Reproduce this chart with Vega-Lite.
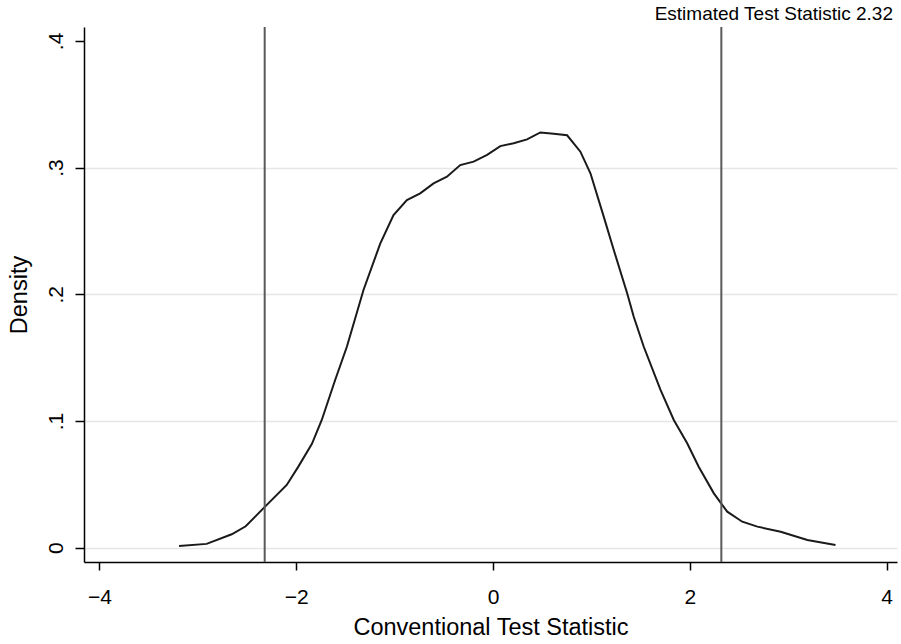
{
  "$schema": "https://vega.github.io/schema/vega-lite/v6.json",
  "width": 813,
  "height": 535,
  "autosize": "none",
  "padding": {"left": 84, "top": 27, "right": 4, "bottom": 82},
  "background": "white",
  "config": {
    "view": {"stroke": null},
    "font": "Liberation Sans"
  },
  "title": {
    "text": "Estimated Test Statistic 2.32",
    "anchor": "end",
    "fontSize": 19,
    "fontWeight": "normal",
    "font": "Liberation Sans",
    "color": "black",
    "offset": 2,
    "dx": -4
  },
  "datasets": {
    "curve": [
      {"t": -3.19, "density": 0.0013},
      {"t": -2.91, "density": 0.003},
      {"t": -2.655, "density": 0.0106},
      {"t": -2.513, "density": 0.0169},
      {"t": -2.334, "density": 0.031},
      {"t": -2.096, "density": 0.0495},
      {"t": -1.978, "density": 0.064},
      {"t": -1.84, "density": 0.082},
      {"t": -1.74, "density": 0.1008},
      {"t": -1.604, "density": 0.1324},
      {"t": -1.485, "density": 0.1586},
      {"t": -1.316, "density": 0.2034},
      {"t": -1.146, "density": 0.24},
      {"t": -1.011, "density": 0.2626},
      {"t": -0.875, "density": 0.2744},
      {"t": -0.74, "density": 0.2797},
      {"t": -0.604, "density": 0.2876},
      {"t": -0.468, "density": 0.2928},
      {"t": -0.333, "density": 0.302},
      {"t": -0.197, "density": 0.3047},
      {"t": -0.06, "density": 0.31},
      {"t": 0.074, "density": 0.317},
      {"t": 0.21, "density": 0.3192},
      {"t": 0.346, "density": 0.3223},
      {"t": 0.481, "density": 0.3278},
      {"t": 0.617, "density": 0.3268},
      {"t": 0.753, "density": 0.3255},
      {"t": 0.888, "density": 0.3126},
      {"t": 0.99, "density": 0.2955},
      {"t": 1.125, "density": 0.2613},
      {"t": 1.227, "density": 0.235},
      {"t": 1.363, "density": 0.2008},
      {"t": 1.43, "density": 0.1823},
      {"t": 1.532, "density": 0.1586},
      {"t": 1.702, "density": 0.1245},
      {"t": 1.837, "density": 0.1008},
      {"t": 1.973, "density": 0.0824},
      {"t": 2.09, "density": 0.0639},
      {"t": 2.244, "density": 0.0429},
      {"t": 2.38, "density": 0.0284},
      {"t": 2.533, "density": 0.0205},
      {"t": 2.686, "density": 0.0166},
      {"t": 2.923, "density": 0.0126},
      {"t": 3.194, "density": 0.0061},
      {"t": 3.48, "density": 0.0021}
    ],
    "lines": [
      {"t": -2.32},
      {"t": 2.32}
    ]
  },
  "layer": [
    {
      "data": {"name": "curve"},
      "mark": {"type": "line", "color": "#1a1a1a", "strokeWidth": 2},
      "encoding": {
        "x": {
          "field": "t",
          "type": "quantitative",
          "scale": {"domain": [-4.156, 4.105], "nice": false, "zero": false},
          "axis": {
            "values": [-4, -2, 0, 2, 4],
            "format": "d",
            "title": "Conventional Test Statistic",
            "titleFontSize": 23.5,
            "titleFontWeight": "normal",
            "titleColor": "black",
            "titlePadding": 8,
            "labelFontSize": 21,
            "labelColor": "black",
            "labelPadding": 16,
            "tickSize": 8,
            "tickWidth": 1.5,
            "tickColor": "black",
            "domainColor": "black",
            "domainWidth": 1.5,
            "grid": false
          }
        },
        "y": {
          "field": "density",
          "type": "quantitative",
          "scale": {"domain": [-0.0113, 0.411], "nice": false, "zero": false},
          "axis": {
            "values": [0, 0.1, 0.2, 0.3, 0.4],
            "labelExpr": "datum.value == 0 ? '0' : '.' + format(datum.value * 10, 'd')",
            "title": "Density",
            "titleFontSize": 23.5,
            "titleFontWeight": "normal",
            "titleColor": "black",
            "titlePadding": 14,
            "labelFontSize": 21,
            "labelColor": "black",
            "labelAngle": -90,
            "labelPadding": 9,
            "tickSize": 9,
            "tickWidth": 1.5,
            "tickColor": "black",
            "domainColor": "black",
            "domainWidth": 1.5,
            "grid": true,
            "gridWidth": 1.5,
            "gridColor": {"condition": {"test": "datum.value > 0.35", "value": "rgba(0,0,0,0)"}, "value": "#e6e6e6"}
          }
        }
      }
    },
    {
      "data": {"name": "lines"},
      "mark": {"type": "rule", "color": "#5a5a5a", "strokeWidth": 2},
      "encoding": {
        "x": {"field": "t", "type": "quantitative"}
      }
    }
  ]
}
